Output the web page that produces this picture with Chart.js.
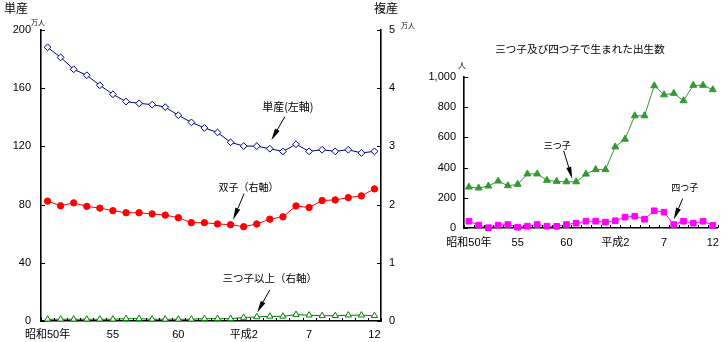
<!DOCTYPE html>
<html><head><meta charset="utf-8">
<script src="https://cdn.jsdelivr.net/npm/chart.js@4/dist/chart.umd.min.js"></script>
<style>
html,body{margin:0;padding:0;background:#fff;width:727px;height:342px;overflow:hidden}
#l{position:absolute;left:0;top:0}
#r{position:absolute;left:400px;top:0}
</style></head><body>
<canvas id="l" width="420" height="342"></canvas>
<canvas id="r" width="327" height="342"></canvas>
<script>
// ---- data ----
const categories = ['昭和50年','51','52','53','54','55','56','57','58','59','60','61','62','63','平成元','平成2','3','4','5','6','7','8','9','10','11','12'];
const tickLabels = ['昭和50年','55','60','平成2','7','12'];
// 単産 (万人, left axis)
const singleBirths = [188.1,181.2,173.0,168.9,162.0,155.8,150.8,149.6,148.7,147.0,141.4,136.5,132.7,129.6,122.8,120.2,120.2,118.4,116.5,121.5,116.6,117.7,116.6,117.7,115.5,116.6];
// 双子 (万人, right axis)
const twinBirths = [2.06,1.98,2.03,1.97,1.94,1.895,1.86,1.86,1.84,1.82,1.775,1.69,1.69,1.667,1.655,1.62,1.667,1.75,1.79,1.976,1.95,2.07,2.08,2.12,2.15,2.27];
// 三つ子以上 (万人, right axis)
const tripletPlusBirths = [0.03,0.03,0.03,0.03,0.03,0.03,0.04,0.04,0.03,0.03,0.03,0.03,0.04,0.04,0.04,0.06,0.07,0.08,0.08,0.11,0.10,0.09,0.09,0.10,0.10,0.09];
// 三つ子 (人)
const tripletCount = [271,265,278,311,280,289,358,358,316,309,306,306,357,387,387,537,588,743,743,942,882,892,843,945,945,916];
// 四つ子 (人)
const quadCount = [45,19,2,19,23,5,12,23,12,11,23,32,45,45,39,48,72,78,58,114,105,23,45,32,45,17];

const FONT = "'Liberation Sans','Noto Sans CJK JP',sans-serif";
const JFONT = "'Noto Sans CJK JP',sans-serif";
Chart.defaults.color = '#000';
Chart.defaults.font.family = FONT;
Chart.defaults.font.size = 11;

const inwardTicks = {
  id:'inwardTicks',
  afterDraw(chart){
    const ctx = chart.ctx, a = chart.chartArea;
    ctx.save(); ctx.strokeStyle='#000'; ctx.lineWidth=1;
    Object.values(chart.scales).forEach(s=>{
      if (s.axis === 'y') {
        const x = s.position === 'left' ? a.left : a.right;
        const dir = s.position === 'left' ? 1 : -1;
        s.ticks.forEach(t=>{
          const y = Math.round(s.getPixelForValue(t.value)) + 0.5;
          ctx.beginPath(); ctx.moveTo(x, y); ctx.lineTo(x + dir*4, y); ctx.stroke();
        });
      } else {
        const n = chart.data.labels.length;
        for (let i = 0; i <= n; i++) {
          const x = Math.round(s.getPixelForValue(i - 0.5)) + 0.5;
          ctx.beginPath(); ctx.moveTo(x, a.bottom); ctx.lineTo(x, a.bottom - 3); ctx.stroke();
        }
      }
    });
    ctx.restore();
  }
};

const notes = {
  id:'notes',
  afterDatasetsDraw(chart, args, opts){
    const ctx = chart.ctx;
    (opts.items || []).forEach(it=>{
      const el = chart.getDatasetMeta(it.ds).data[it.idx];
      const px = el.x, py = el.y;
      ctx.save();
      ctx.font = it.font; ctx.fillStyle = '#000'; ctx.textAlign = 'center'; ctx.textBaseline = 'middle';
      ctx.fillText(it.text, px + it.t[0], py + it.t[1]);
      const tx = px + it.tail[0], ty = py + it.tail[1], hx = px + it.head[0], hy = py + it.head[1];
      const ang = Math.atan2(hy - ty, hx - tx), L = 12, W = 2.6;
      const bx = hx - L*Math.cos(ang), by = hy - L*Math.sin(ang);
      ctx.strokeStyle = '#000'; ctx.lineWidth = 1;
      ctx.beginPath(); ctx.moveTo(tx, ty); ctx.lineTo(bx, by); ctx.stroke();
      ctx.beginPath(); ctx.moveTo(hx, hy);
      ctx.lineTo(bx - W*Math.sin(ang), by + W*Math.cos(ang));
      ctx.lineTo(bx + W*Math.sin(ang), by - W*Math.cos(ang));
      ctx.closePath(); ctx.fill();
      ctx.restore();
    });
  }
};

const statics = {
  id:'statics',
  afterDraw(chart, args, opts){
    const ctx = chart.ctx;
    (opts.items || []).forEach(it=>{
      ctx.save(); ctx.font = it.font; ctx.fillStyle = '#000';
      ctx.textAlign = it.align || 'left'; ctx.textBaseline = 'middle';
      ctx.fillText(it.text, it.x, it.y); ctx.restore();
    });
  }
};

const xTickCb = (v, i) => tickLabels.includes(categories[i]) ? categories[i] : '';

new Chart(document.getElementById('l'), {
  type:'line',
  data:{ labels: categories, datasets:[
    {label:'単産', data:singleBirths, yAxisID:'y', borderColor:'#000080', backgroundColor:'#fff', borderWidth:1,
     pointStyle:'rectRot', pointRadius:3.4, pointBorderWidth:1, pointBackgroundColor:'#fff', pointBorderColor:'#000080', clip:false},
    {label:'双子', data:twinBirths, yAxisID:'y2', borderColor:'#ff0000', backgroundColor:'#ff0000', borderWidth:1,
     pointStyle:'circle', pointRadius:3.2, pointBorderWidth:1, pointBackgroundColor:'#ff0000', pointBorderColor:'#ff0000', clip:false},
    {label:'三つ子以上', data:tripletPlusBirths, yAxisID:'y2', borderColor:'#008000', backgroundColor:'#fff', borderWidth:1,
     pointStyle:'triangle', pointRadius:3.6, pointBorderWidth:1, pointBackgroundColor:'#fff', pointBorderColor:'#008000', clip:false}
  ]},
  options:{
    responsive:false, animation:false, devicePixelRatio:1,
    layout:{padding:{top:30, left:0, right:0, bottom:0}},
    plugins:{legend:{display:false}, tooltip:{enabled:false},
      notes:{items:[
        {ds:0, idx:17, text:'単産(左軸)', font:"11px "+JFONT, t:[18,-42], tail:[15,-32], head:[1.5,-8.5]},
        {ds:1, idx:14, text:'双子（右軸）', font:"10px "+JFONT, t:[18,-37], tail:[13.5,-31], head:[2.5,-5]},
        {ds:2, idx:16, text:'三つ子以上（右軸）', font:"10.5px "+JFONT, t:[13,-39], tail:[13,-27], head:[0.5,-4.5]}
      ]},
      statics:{items:[
        {text:'単産', x:4, y:8, font:"12px "+JFONT},
        {text:'万人', x:31, y:22.5, font:"7px "+JFONT},
        {text:'複産', x:374, y:8, font:"12px "+JFONT},
        {text:'万人', x:401, y:25, font:"7px "+JFONT}
      ]}
    },
    scales:{
      x:{type:'category', offset:true, grid:{display:false, drawTicks:false}, border:{display:true, color:'#000', width:1.6},
         ticks:{autoSkip:false, maxRotation:0, padding:7, callback:xTickCb}, afterFit(s){ s.height = 21; }},
      y:{position:'left', min:0, max:200, grid:{display:false, drawTicks:false}, border:{display:true, color:'#000', width:1.6},
         ticks:{stepSize:40, padding:10}, afterFit(s){ s.width = 41; }},
      y2:{position:'right', min:0, max:5, grid:{display:false, drawTicks:false}, border:{display:true, color:'#000', width:1.6},
         ticks:{stepSize:1, padding:8}, afterFit(s){ s.width = 39; }}
    }
  },
  plugins:[inwardTicks, notes, statics]
});

new Chart(document.getElementById('r'), {
  type:'line',
  data:{ labels: categories, datasets:[
    {label:'三つ子', data:tripletCount, borderColor:'#339933', backgroundColor:'#339933', borderWidth:1,
     pointStyle:'triangle', pointRadius:4, pointBorderWidth:1, pointBackgroundColor:'#339933', pointBorderColor:'#339933', clip:false},
    {label:'四つ子', data:quadCount, borderColor:'#ff00ff', backgroundColor:'#ff00ff', borderWidth:1,
     pointStyle:'rect', pointRadius:4, pointBorderWidth:1, pointBackgroundColor:'#ff00ff', pointBorderColor:'#ff00ff', clip:false}
  ]},
  options:{
    responsive:false, animation:false, devicePixelRatio:1,
    layout:{padding:{top:77, left:0, right:3, bottom:0}},
    plugins:{legend:{display:false}, tooltip:{enabled:false},
      notes:{items:[
        {ds:0, idx:11, text:'三つ子', font:"9px "+JFONT, t:[-19,-36], tail:[-12.5,-31], head:[-4,-3]},
        {ds:1, idx:21, text:'四つ子', font:"9px "+JFONT, t:[11,-37], tail:[9,-26], head:[0,-5]}
      ]},
      statics:{items:[
        {text:'三つ子及び四つ子で生まれた出生数', x:180, y:49, font:"10.6px "+JFONT, align:'center'},
        {text:'人', x:58, y:65, font:"8px "+JFONT}
      ]}
    },
    scales:{
      x:{type:'category', offset:true, grid:{display:false, drawTicks:false}, border:{display:true, color:'#000', width:1.6},
         ticks:{autoSkip:false, maxRotation:0, padding:8, callback:xTickCb}, afterFit(s){ s.height = 114; }},
      y:{position:'left', min:0, max:1000, grid:{display:false, drawTicks:false}, border:{display:true, color:'#000', width:1.6},
         ticks:{stepSize:200, padding:8, callback:v=>v.toLocaleString('en-US')}, afterFit(s){ s.width = 64; }}
    }
  },
  plugins:[inwardTicks, notes, statics]
});
</script>
</body></html>
